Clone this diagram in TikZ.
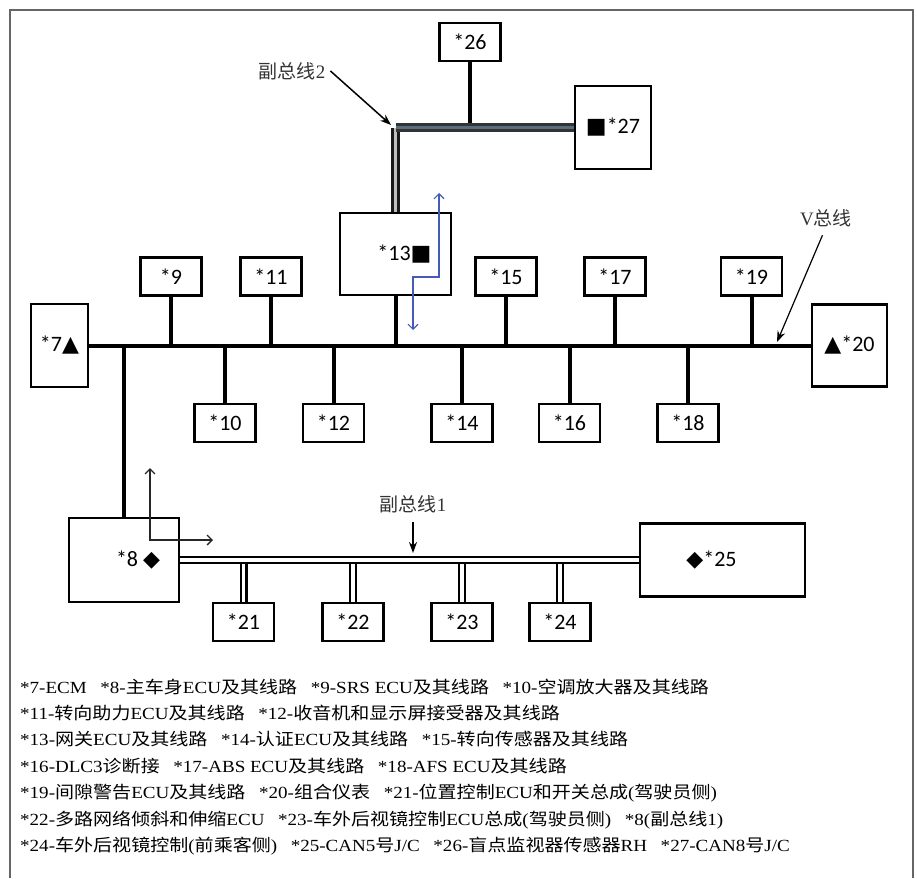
\documentclass[tikz,border=0pt]{standalone}
\usepackage{fontspec}
\setmainfont{Liberation Serif}
\newfontfamily\cjk{Noto Sans CJK SC}
\newfontfamily\legfont[FakeStretch=1.12]{Liberation Serif}
\newfontfamily\legcjk[FakeStretch=1.12]{Noto Sans CJK SC}
\newfontfamily\boxfont{Carlito}
\newfontfamily\symf{DejaVu Sans}
\usetikzlibrary{arrows.meta}

\definecolor{ptrblue}{RGB}{70,92,180}
\definecolor{slate}{RGB}{88,110,124}

\newcommand{\zh}[1]{{\cjk #1}}
\newcommand{\gap}{\hspace{0.8em}}

\tikzset{
    ecu/.style={draw, line width=2.8pt, inner sep=0pt,
        minimum width=61pt, minimum height=38pt,
        font=\boxfont\fontsize{22}{24}\selectfont},
    bus/.style={line width=4pt},
    subbus/.style={double, line width=2.2pt, double distance=3.6pt},
    tag/.style={inner sep=0pt, text=black!80, font=\fontsize{19}{20}\selectfont},
    tagarrow/.style={line width=1.5pt, -{Stealth[length=11pt,width=8pt]}},
    hint/.style={line width=1.3pt, {Straight Barb[length=5pt,width=10pt]}-{Straight Barb[length=5pt,width=10pt]}},
    legend/.style={anchor=base west, inner sep=0pt,
        font=\legfont\let\cjk\legcjk\fontsize{17}{20}\selectfont},
}

\begin{document}
\begin{tikzpicture}[x=1pt, y=-1pt]
    \useasboundingbox (0,0) rectangle (917,878);
    \draw[line width=1.4pt, black!60] (10,878) -- (10,10) -- (913,10) -- (913,878);

    % gateway side (sub bus 2)
    \node[ecu] (n26) at (470,42) {*26};
    \node[ecu, minimum width=76pt, minimum height=83pt] (n27) at (613,127.5) {{\symf■}*27};
    \node[ecu, minimum width=111pt, minimum height=82pt,
        label={[font=\boxfont\fontsize{22}{24}\selectfont, xshift=9pt]center:*13{\symf■}}] (n13) at (395.5,254) {};

    % V bus
    \node[ecu, minimum width=57pt, minimum height=83pt] (n7) at (59.5,345.5) {*7{\symf▲}};
    \node[ecu, minimum width=75pt, minimum height=82pt] (n20) at (849.5,345.5) {{\symf▲}*20};
    \node[ecu] (n9)  at (171,276.5) {*9};
    \node[ecu] (n11) at (271,276.5) {*11};
    \node[ecu] (n15) at (506,276.5) {*15};
    \node[ecu] (n17) at (615,276.5) {*17};
    \node[ecu] (n19) at (751.5,276.5) {*19};
    \node[ecu] (n10) at (225,423) {*10};
    \node[ecu] (n12) at (333.5,423) {*12};
    \node[ecu] (n14) at (462,423) {*14};
    \node[ecu] (n16) at (569.5,423) {*16};
    \node[ecu] (n18) at (688,423) {*18};

    % sub bus 1
    \node[ecu, minimum width=110pt, minimum height=84pt,
        label={[font=\boxfont\fontsize{22}{24}\selectfont, xshift=14pt]center:*8 {\symf◆}}] (n8) at (124,560) {};
    \node[ecu, minimum width=165pt, minimum height=73pt,
        label={[font=\boxfont\fontsize{22}{24}\selectfont, xshift=-11pt]center:{\symf◆}*25}] (n25) at (722.5,560) {};
    \node[ecu] (n21) at (243.5,622) {*21};
    \node[ecu] (n22) at (353,622) {*22};
    \node[ecu] (n23) at (462,622) {*23};
    \node[ecu] (n24) at (560,622) {*24};

    \draw[bus] (n7.east) -- (n20.west);
    \foreach \n in {n9,n11,n13,n15,n17,n19}
        \draw[bus] (\n.south) -- (\n.south |- n7.east);
    \foreach \n in {n10,n12,n14,n16,n18,n8}
        \draw[bus] (\n.north) -- (\n.north |- n7.east);

    \draw[bus] (n26.south) -- (n26.south |- n27.west);
    \draw[subbus, line width=2.5pt, black!90, double=black!25] (n13.north) -- (n13.north |- n27.west);
    \draw[subbus, line width=2.5pt, black!80, double=slate] (n13.north |- n27.west) -- (n27.west);

    \foreach \n in {n21,n22,n23,n24}
        \draw[subbus] (\n.north) -- (\n.north |- n8.east);
    \draw[subbus] (n8.east) -- (n25.west);

    % callouts
    \node[tag] (t2) at (292,71) {\zh{副总线}2};
    \coordinate (p2) at (391,125);
    \draw[tagarrow] (t2.east) ++(5,0) -- (p2);

    \node[tag] (tv) at (826,218) {V\zh{总线}};
    \coordinate (pv) at (777,342);
    \draw[tagarrow, line width=1.2pt, shorten <=9pt] (tv.south) -- (pv);

    \node[tag] (t1) at (413,504) {\zh{副总线}1};
    \coordinate (p1) at (413,553);
    \draw[tagarrow, line width=1.8pt, shorten <=9pt] (t1.south) -- (p1);

    % direction hints
    \coordinate (h1) at (150,468);
    \coordinate (h2) at (150,540);
    \coordinate (h3) at (213,540);
    \draw[hint, black!85] (h1) -- (h2) -- (h3);
    \coordinate (b1) at (413,330);
    \coordinate (b2) at (413,277);
    \coordinate (b3) at (439,277);
    \coordinate (b4) at (439,193);
    \draw[hint, ptrblue, line width=1.1pt] (b1) -- (b2) -- (b3) -- (b4);

    % legend
    \node[legend] (leg1) at (20,693) {*7-ECM\gap*8-\zh{主车身}ECU\zh{及其线路}\gap*9-SRS ECU\zh{及其线路}\gap*10-\zh{空调放大器及其线路}};
    \node[legend] (leg2) at (20,719.4) {*11-\zh{转向助力}ECU\zh{及其线路}\gap*12-\zh{收音机和显示屏接受器及其线路}};
    \node[legend] (leg3) at (20,745.8) {*13-\zh{网关}ECU\zh{及其线路}\gap*14-\zh{认证}ECU\zh{及其线路}\gap*15-\zh{转向传感器及其线路}};
    \node[legend] (leg4) at (20,772.2) {*16-DLC3\zh{诊断接}\gap*17-ABS ECU\zh{及其线路}\gap*18-AFS ECU\zh{及其线路}};
    \node[legend] (leg5) at (20,798.6) {*19-\zh{间隙警告}ECU\zh{及其线路}\gap*20-\zh{组合仪表}\gap*21-\zh{位置控制}ECU\zh{和开关总成}(\zh{驾驶员侧})};
    \node[legend] (leg6) at (20,825) {*22-\zh{多路网络倾斜和伸缩}ECU\gap*23-\zh{车外后视镜控制}ECU\zh{总成}(\zh{驾驶员侧})\gap*8(\zh{副总线}1)};
    \node[legend] (leg7) at (20,851.4) {*24-\zh{车外后视镜控制}(\zh{前乘客侧})\gap*25-CAN5\zh{号}J/C\gap*26-\zh{盲点监视器传感器}RH\gap*27-CAN8\zh{号}J/C};
\end{tikzpicture}
\end{document}
